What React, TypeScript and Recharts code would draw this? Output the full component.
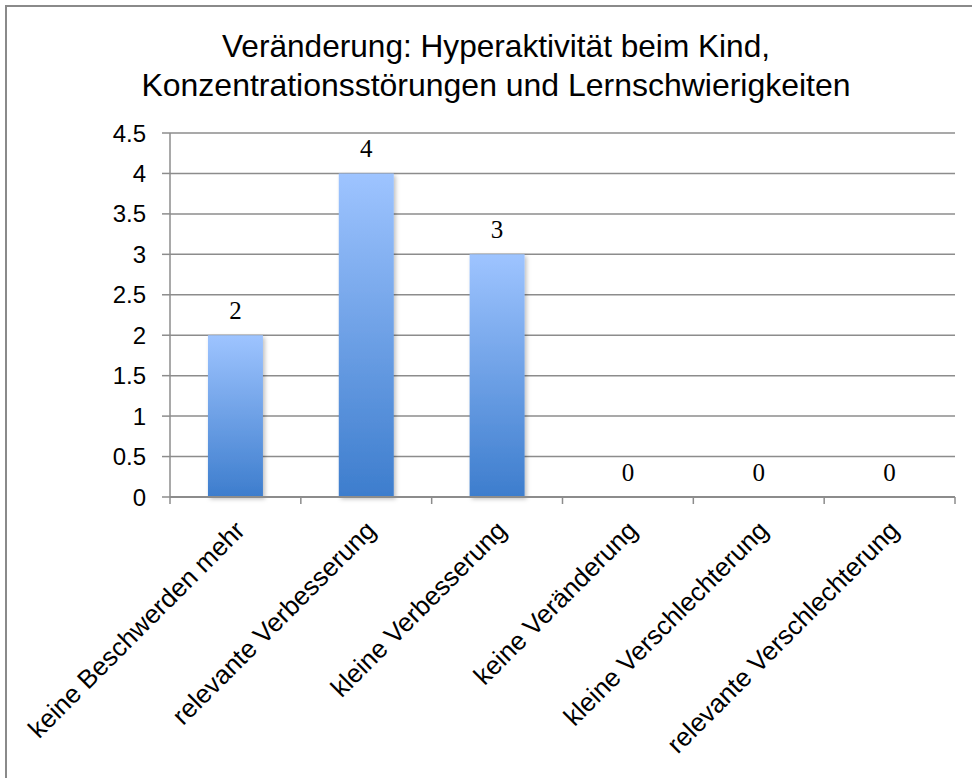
import React from "react";
import { ComposedChart, Bar, Line, XAxis, YAxis, CartesianGrid, LabelList } from "recharts";

const categories = [
  "keine Beschwerden mehr",
  "relevante Verbesserung",
  "kleine Verbesserung",
  "keine Veränderung",
  "kleine Verschlechterung",
  "relevante Verschlechterung",
];
const values = [2, 4, 3, 0, 0, 0];
const yTicks = [0, 0.5, 1, 1.5, 2, 2.5, 3, 3.5, 4, 4.5];
const titleLines = [
  "Veränderung: Hyperaktivität beim Kind,",
  "Konzentrationsstörungen und Lernschwierigkeiten",
];

const data = categories.map((name, i) => ({ name, value: values[i] }));

const GRID = "#8c8c8c";

const CategoryTick = (props: any) => {
  const { x, y, payload, index, width, visibleTicksCount } = props;
  const half =
    payload && typeof payload.offset === "number" && payload.offset > 0
      ? payload.offset
      : width / (visibleTicksCount || 6) / 2;
  const last = index === (visibleTicksCount || 6) - 1;
  return (
    <g>
      <line x1={x - half} x2={x - half} y1={y} y2={y + 7} stroke={GRID} strokeWidth={1.5} />
      {last && <line x1={x + half} x2={x + half} y1={y} y2={y + 7} stroke={GRID} strokeWidth={1.5} />}
      <g transform={`translate(${x + 11},${y + 35})`}>
        <text
          transform="rotate(-45)"
          textAnchor="end"
          fontFamily="'Liberation Sans', Arial, sans-serif"
          fontSize={26}
          fill="#000"
        >
          {payload.value}
        </text>
      </g>
    </g>
  );
};

export default function App() {
  return (
    <div style={{ position: "absolute", left: 0, top: 0, width: 972, height: 778, background: "#fff", overflow: "hidden" }}>
      <div
        style={{
          position: "absolute",
          left: 5,
          top: 5,
          width: 1200,
          height: 1200,
          borderLeft: "2px solid #8a8a8a",
          borderTop: "2px solid #8a8a8a",
        }}
      />
      <svg style={{ position: "absolute", left: 0, top: 0 }} width={972} height={120}>
        <text x={496} y={57} textAnchor="middle" fontFamily="'Liberation Sans', Arial, sans-serif" fontSize={32} fill="#000" textLength={548} lengthAdjust="spacingAndGlyphs">
          {titleLines[0]}
        </text>
        <text x={496} y={96} textAnchor="middle" fontFamily="'Liberation Sans', Arial, sans-serif" fontSize={32} fill="#000" textLength={709} lengthAdjust="spacingAndGlyphs">
          {titleLines[1]}
        </text>
      </svg>
      <div style={{ position: "absolute", left: 0, top: 0 }}>
        <ComposedChart
          width={972}
          height={778}
          data={data}
          margin={{ top: 133, right: 17, left: 0, bottom: 81 }}
          barCategoryGap="29%"
        >
          <defs>
            <linearGradient id="barGrad" x1="0" y1="0" x2="0" y2="1">
              <stop offset="0%" stopColor="#9ec4ff" />
              <stop offset="100%" stopColor="#3d7dcd" />
            </linearGradient>
            <filter id="barShadow" x="-20%" y="-20%" width="140%" height="140%">
              <feDropShadow dx="2" dy="2" stdDeviation="2" floodColor="#000" floodOpacity="0.25" />
            </filter>
          </defs>
          <CartesianGrid vertical={false} stroke={GRID} strokeWidth={1.5} />
          <XAxis
            dataKey="name"
            height={200}
            interval={0}
            tickSize={0}
            tickMargin={0}
            axisLine={{ stroke: GRID, strokeWidth: 2 }}
            tickLine={false}
            tick={<CategoryTick />}
          />
          <YAxis
            width={170}
            domain={[0, 4.5]}
            ticks={yTicks}
            interval={0}
            tickSize={8}
            tickMargin={16}
            axisLine={{ stroke: GRID, strokeWidth: 1.5 }}
            tickLine={{ stroke: GRID, strokeWidth: 1.5 }}
            tick={{ fill: "#000", fontSize: 24, fontFamily: "'Liberation Sans', Arial, sans-serif" }}
          />
          <Bar dataKey="value" fill="url(#barGrad)" isAnimationActive={false} style={{ filter: "url(#barShadow)" }} />
          <Line
            dataKey="value"
            stroke="none"
            dot={false}
            activeDot={false}
            isAnimationActive={false}
          >
            <LabelList
              dataKey="value"
              position="top"
              offset={16}
              fill="#000"
              fontSize={25}
              fontFamily="'Liberation Serif', 'Times New Roman', serif"
            />
          </Line>
        </ComposedChart>
      </div>
    </div>
  );
}
